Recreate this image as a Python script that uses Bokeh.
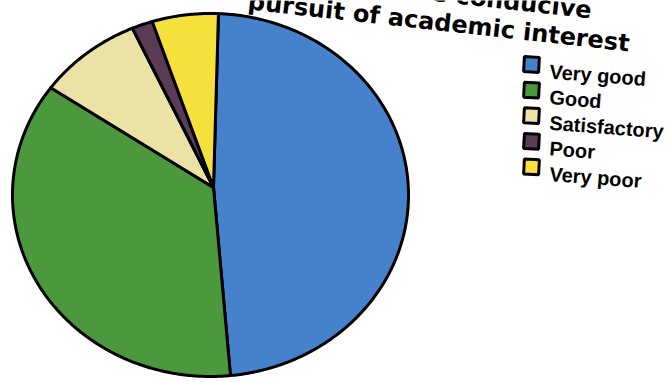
import numpy as np
from bokeh.plotting import figure
from bokeh.models import Range1d, ColumnDataSource
from bokeh.core.properties import value
from bokeh.embed import file_html
from bokeh.resources import INLINE

# Data (percent of respondents)
categories = ["Very good", "Good", "Satisfactory", "Poor", "Very poor"]
percent = [47.8, 36.7, 8.5, 1.7, 5.4]
colors = ["#4682cc", "#4c983d", "#ebe2a6", "#5a3d55", "#f6e03c"]
title_lines = ["Is the campus atmosphere conducive", "pursuit of academic interest"]

W, H = 671, 382
p = figure(width=W, height=H, output_backend="svg", toolbar_location=None,
           x_range=Range1d(0, W), y_range=Range1d(H, 0),
           min_border=0, outline_line_color=None, background_fill_color="white",
           border_fill_color="white")
p.axis.visible = False
p.grid.visible = False

# pie geometry (photographed as slightly tilted ellipse)
cx, cy, rx, ry = 210.0, 194.5, 198.0, 181.5
vx, vy = 213.0, 187.0
start = np.deg2rad(2.3)

vals = np.array(percent, dtype=float)
fr = vals / vals.sum()
edges = start + 2 * np.pi * np.concatenate([[0], np.cumsum(fr)])
xs, ys = [], []
for a0, a1 in zip(edges[:-1], edges[1:]):
    n = max(int((a1 - a0) / 0.01), 3)
    t = np.linspace(a0, a1, n)
    xs.append(np.concatenate([[vx], cx + rx * np.sin(t), [vx]]).tolist())
    ys.append(np.concatenate([[vy], cy - ry * np.cos(t), [vy]]).tolist())
src = ColumnDataSource(dict(xs=xs, ys=ys, color=colors, cat=categories))
p.patches("xs", "ys", source=src, fill_color="color", line_color="black",
          line_width=3, line_join="round")

# title (rotated, top cropped as in photo)
tang = -np.deg2rad(6.3)
p.text(x=[591, 629], y=[10, 43], text=title_lines, angle=tang,
       text_align="right", text_baseline="middle",
       text_font=value("DejaVu Sans"), text_font_style="bold",
       text_font_size="24px", text_color="black")

# legend
lx0, ly0, step = 531, 64, 25.6
lang = -np.deg2rad(4.4)
ly = [ly0 + i * step for i in range(len(categories))]
p.rect(x=[lx0] * len(categories), y=ly, width=15, height=15, angle=-np.deg2rad(3.0),
       fill_color=colors, line_color="black", line_width=3)
p.text(x=[549] * len(categories), y=[y + 7 for y in ly], text=categories,
       angle=lang, text_align="left", text_baseline="middle",
       text_font=value("Liberation Sans"), text_font_style="bold",
       text_font_size="20px", text_color="black")

open("out.html", "w").write(file_html(p, INLINE))
